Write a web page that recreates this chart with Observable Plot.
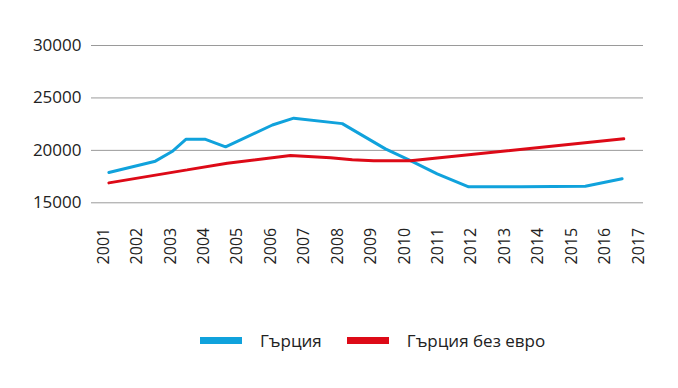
<!DOCTYPE html>
<html><head><meta charset="utf-8">
<script src="https://cdn.jsdelivr.net/npm/d3@7"></script>
<script src="https://cdn.jsdelivr.net/npm/@observablehq/plot@0.6"></script>
<style>
body{margin:0;background:#fff;font-family:"Open Sans",sans-serif;}
#chart{position:relative;width:678px;height:388px;overflow:hidden;}
.legend{position:absolute;left:200px;top:329px;display:flex;align-items:center;font-size:17px;color:#222;white-space:nowrap;}
.item{display:flex;align-items:center;}
.sw{width:42px;height:7px;display:inline-block;margin-right:18px;}
.gap{width:25px;}
</style></head><body><div id="chart"></div>
<script>
const years = [2001,2002,2003,2004,2005,2006,2007,2008,2009,2010,2011,2012,2013,2014,2015,2016,2017];
const yTicks = [15000,20000,25000,30000];
const seriesNames = ["Гърция","Гърция без евро"];
const seriesColors = ["#10a2dc","#dd0a17"];

const greeceX = [2001.16,2002.55,2003.05,2003.47,2004.03,2004.65,2006.05,2006.69,2008.14,2009.43,2010.18,2010.98,2011.92,2013.5,2015.41,2016.51];
const greeceY = [17890,18970,19890,21065,21065,20340,22420,23070,22550,20140,19030,17760,16520,16540,16580,17290];

const noEuroX = [2001.16,2003.5,2004.7,2006.59,2007.79,2008.44,2009.08,2010.18,2016.56];
const noEuroY = [16900,18140,18780,19510,19290,19100,19000,19000,21100];

const data = [
  ...greeceX.map((x,i)=>({x, y:greeceY[i], s:seriesNames[0]})),
  ...noEuroX.map((x,i)=>({x, y:noEuroY[i], s:seriesNames[1]}))
];

const plot = Plot.plot({
  width:678, height:300,
  marginLeft:91, marginRight:35, marginTop:45, marginBottom:97.7,
  style:{fontFamily:"'Open Sans',sans-serif", fontSize:"17px", color:"#222", background:"#fff"},
  x:{domain:[2000.64,2017.15]},
  y:{domain:[15000,30000]},
  color:{domain:seriesNames, range:seriesColors},
  marks:[
    Plot.gridY(yTicks,{stroke:"#9a9a9a", strokeOpacity:1, strokeWidth:1}),
    Plot.axisY(yTicks,{tickSize:0, tickPadding:10, tickFormat:d=>String(d), label:null, fontSize:17}),
    Plot.axisX(years,{tickSize:0, tickRotate:-90, tickPadding:25, tickFormat:d=>String(d), label:null, fontSize:16}),
    Plot.line(data,{x:"x", y:"y", z:"s", stroke:"s", strokeWidth:3, strokeLinejoin:"miter"})
  ]
});
const chart = document.getElementById("chart");
chart.appendChild(plot);

const legend = document.createElement("div");
legend.className = "legend";
seriesNames.forEach((n,i)=>{
  if(i>0){const g=document.createElement("span");g.className="gap";legend.appendChild(g);}
  const it = document.createElement("span"); it.className="item";
  const sw = document.createElement("span"); sw.className="sw"; sw.style.background=seriesColors[i];
  const t = document.createElement("span"); t.textContent=n;
  it.appendChild(sw); it.appendChild(t); legend.appendChild(it);
});
chart.appendChild(legend);
</script></body></html>
